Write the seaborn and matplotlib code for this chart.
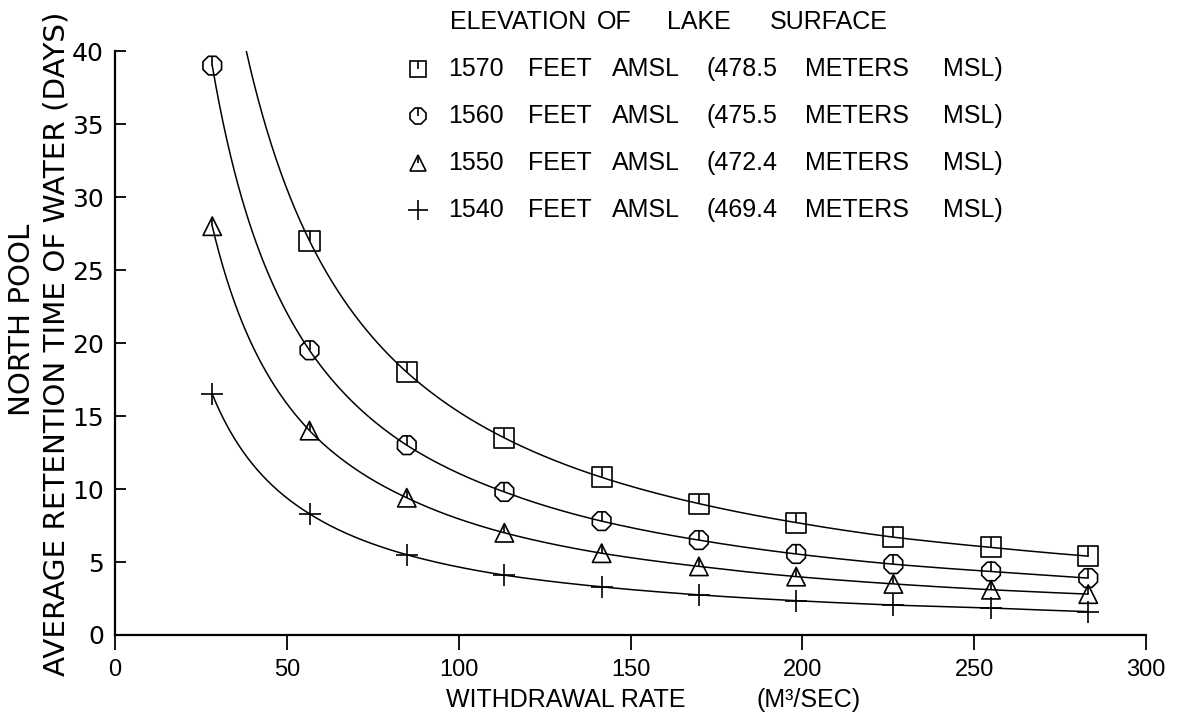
import numpy as np
import pandas as pd
import matplotlib
matplotlib.use("Agg")
import matplotlib.pyplot as plt
from matplotlib.path import Path
from matplotlib import font_manager as fm
import seaborn as sns

# Withdrawal rate (m^3/s) and average retention time (days) per lake elevation
withdrawal = [28.3, 56.6, 84.9, 113.3, 141.6, 169.9, 198.2, 226.5, 254.9, 283.2]
ret_1570 = [54.0, 27.0, 18.0, 13.5, 10.8, 9.0, 7.7, 6.7, 6.0, 5.4]
ret_1560 = [39.0, 19.5, 13.0, 9.8, 7.8, 6.5, 5.55, 4.85, 4.35, 3.9]
ret_1550 = [28.0, 14.0, 9.4, 7.0, 5.6, 4.7, 4.0, 3.5, 3.1, 2.8]
ret_1540 = [16.5, 8.3, 5.5, 4.1, 3.3, 2.75, 2.35, 2.05, 1.85, 1.6]

elev_feet = ["1570", "1560", "1550", "1540"]
elev_meters = ["478.5", "475.5", "472.4", "469.4"]
x_ticks = [0, 50, 100, 150, 200, 250, 300]
y_ticks = [0, 5, 10, 15, 20, 25, 30, 35, 40]

series = [ret_1570, ret_1560, ret_1550, ret_1540]
markers = ["s", "8", "^", "+"]
marker_sizes = [210, 210, 175, 230]

sns.set_style("white")


def available(name):
    try:
        fm.findfont(fm.FontProperties(family=name), fallback_to_default=False)
        return True
    except Exception:
        return False


sans = "Liberation Sans" if available("Liberation Sans") else "DejaVu Sans"
narrow = "Liberation Sans Narrow" if available("Liberation Sans Narrow") else "DejaVu Sans"
plt.rcParams["font.family"] = [sans, "DejaVu Sans"]
plt.rcParams["text.color"] = "black"
plt.rcParams["axes.labelcolor"] = "black"
plt.rcParams["xtick.color"] = "black"
plt.rcParams["ytick.color"] = "black"
plt.rcParams["ytick.direction"] = "in"
plt.rcParams["xtick.direction"] = "out"
plt.rcParams["ytick.left"] = True
plt.rcParams["xtick.bottom"] = True

W, H = 1185, 721
fig = plt.figure(figsize=(W / 100, H / 100), dpi=100)
ax = fig.add_axes([115 / W, 1 - 635 / H, (1146 - 115) / W, (635 - 51) / H])

# short vertical stroke from the marker centre up to its top edge
stem = Path([(0, 0), (0, 1)], [Path.MOVETO, Path.LINETO])

for vals, mk, sz in zip(series, markers, marker_sizes):
    lx = np.log(withdrawal)
    xs = np.exp(np.linspace(lx[0], lx[-1], 400))
    ys = np.exp(np.interp(np.log(xs), lx, np.log(vals)))
    curve = pd.DataFrame({"q": xs, "t": ys})
    sns.lineplot(data=curve, x="q", y="t", ax=ax, color="black",
                 linewidth=1.1, sort=False, estimator=None)
    pts = pd.DataFrame({"q": withdrawal, "t": vals})
    if mk == "+":
        sns.scatterplot(data=pts, x="q", y="t", ax=ax, marker="+", s=sz,
                        color="black", linewidth=1.2, zorder=4)
    else:
        sns.scatterplot(data=pts, x="q", y="t", ax=ax, marker=mk, s=sz,
                        facecolor="none", edgecolor="black", linewidth=1.2,
                        zorder=4)
        sns.scatterplot(data=pts, x="q", y="t", ax=ax, marker=stem, s=sz,
                        color="black", edgecolor="black", linewidth=1.2,
                        zorder=4)

ax.set_xlim(0, 300)
ax.set_ylim(0, 40)
ax.set_xticks(x_ticks)
ax.set_yticks(y_ticks)
ax.set_xlabel("")
ax.set_ylabel("")
sns.despine(ax=ax)
for side in ("left", "bottom"):
    ax.spines[side].set_linewidth(1.6)
    ax.spines[side].set_color("black")
ax.tick_params(axis="y", which="major", left=True, direction="in",
               length=8, width=1.3, pad=8, labelsize=18, colors="black")
ax.tick_params(axis="x", which="major", bottom=True, direction="out",
               length=11, width=1.3, pad=6, labelsize=17, colors="black")
for lab in ax.get_yticklabels():
    lab.set_fontfamily("DejaVu Sans")
ax.set_facecolor("none")

# overlay in pixel coordinates for the titles and the key
ov = fig.add_axes([0, 0, 1, 1], zorder=5)
ov.set_xlim(0, W)
ov.set_ylim(H, 0)
ov.axis("off")
ov.patch.set_alpha(0)

fs_key = 18
for word, xw in zip(["ELEVATION", "OF", "LAKE"], [450, 597, 667]):
    ov.text(xw, 22, word, fontsize=fs_key, ha="left", va="center")
ov.text(888, 22, "SURFACE", fontsize=fs_key, ha="right", va="center")

row_y = [69, 116, 163, 210]
key_ms = [12, 12, 11, 14]
for ft, m, mk, ms, yr in zip(elev_feet, elev_meters, markers, key_ms, row_y):
    if mk == "+":
        ov.plot([418], [yr], marker="+", ms=ms, color="black", mew=1.2)
    else:
        ov.plot([418], [yr], marker=mk, ms=ms, mfc="none", mec="black", mew=1.2)
        ov.plot([418], [yr], marker=stem, ms=ms, color="black", mew=1.2)
    ov.text(448, yr, ft, fontsize=fs_key, ha="left", va="center")
    ov.text(528, yr, "FEET", fontsize=fs_key, ha="left", va="center")
    ov.text(612, yr, "AMSL", fontsize=fs_key, ha="left", va="center")
    ov.text(707, yr, "(" + m, fontsize=fs_key, ha="left", va="center")
    ov.text(805, yr, "METERS", fontsize=fs_key, ha="left", va="center")
    ov.text(1003, yr, "MSL)", fontsize=fs_key, ha="right", va="center")

# axis titles
ov.text(446, 700, "WITHDRAWAL RATE", fontsize=18, ha="left", va="center")
ov.text(756, 700, "(M³/SEC)", fontsize=18, ha="left", va="center")

ylab2 = ov.text(57, 344, "AVERAGE RETENTION TIME OF WATER (DAYS)",
                fontsize=22, rotation=90, ha="center", va="center",
                family=[narrow, "DejaVu Sans"])
ylab1 = ov.text(22, 320, "NORTH POOL", fontsize=22, rotation=90,
                ha="center", va="center", family=[narrow, "DejaVu Sans"])

# fit the long axis title to its span along the axis
fig.canvas.draw()
r = fig.canvas.get_renderer()
span = ylab2.get_window_extent(r).height
scale = 662 / span
ylab2.set_fontsize(22 * scale)
ylab1.set_fontsize(22 * scale)

fig.savefig("out.png", dpi=100, facecolor="white")
